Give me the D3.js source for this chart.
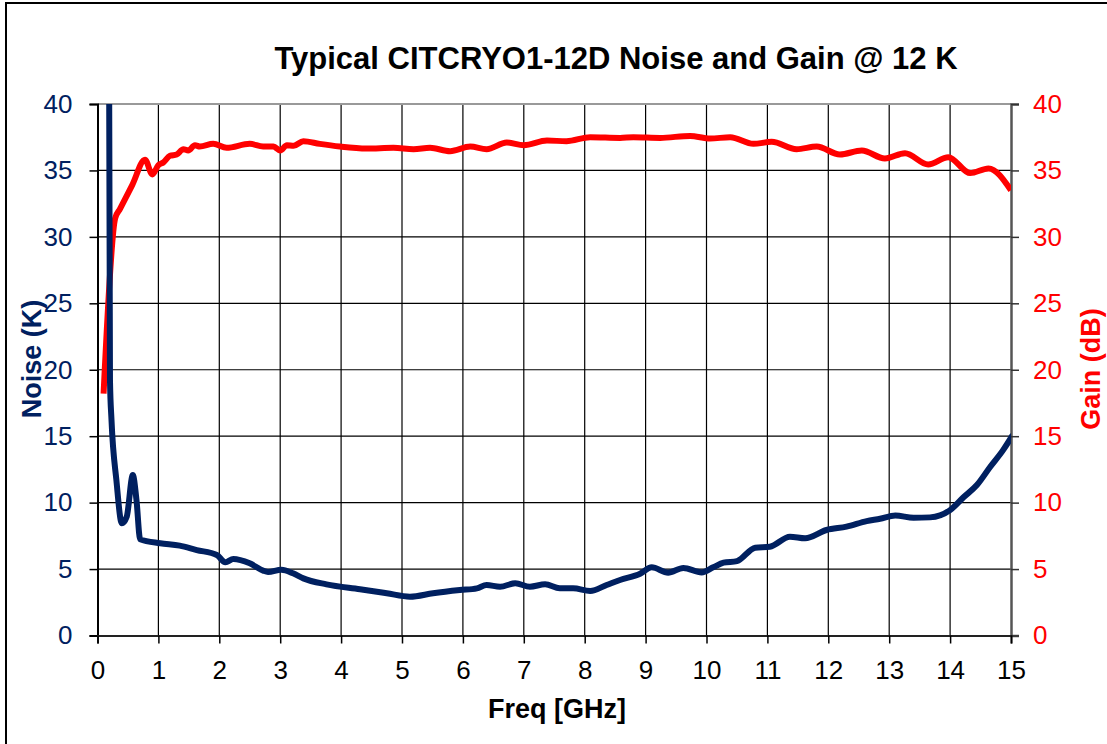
<!DOCTYPE html>
<html>
<head>
<meta charset="utf-8">
<script src="https://cdn.jsdelivr.net/npm/d3@7"></script>
<style>
	body { margin: 0; background: #fff; }
	text { font-family: Arial, "Liberation Sans", sans-serif; }
</style>
</head>
<body>
<div id="chart"></div>
<script>
// frequency (GHz) / noise (K)
var noiseFreq = [0.18, 0.205, 0.23, 0.31, 0.40, 0.48, 0.58, 0.64, 0.70, 1.03, 1.35, 1.63, 1.96, 2.10, 2.23, 2.50, 2.72, 2.80, 3.02, 3.21, 3.38, 3.76, 4.31, 4.75, 5.13, 5.51, 5.95, 6.23, 6.39, 6.61, 6.86, 7.10, 7.35, 7.59, 7.81, 8.09, 8.36, 8.58, 8.91, 9.10, 9.37, 9.62, 9.92, 10.11, 10.28, 10.50, 10.80, 11.04, 11.37, 11.62, 11.97, 12.30, 12.63, 12.85, 13.10, 13.40, 13.67, 14.00, 14.22, 14.44, 14.66, 14.87, 15.03]
var noiseK = [60, 19.2, 16.2, 11.7, 8.44, 8.94, 12.07, 10.2, 7.24, 6.94, 6.76, 6.43, 6.06, 5.51, 5.76, 5.43, 4.88, 4.78, 4.95, 4.68, 4.30, 3.85, 3.48, 3.18, 2.92, 3.18, 3.42, 3.55, 3.80, 3.67, 3.93, 3.67, 3.85, 3.55, 3.55, 3.35, 3.80, 4.18, 4.65, 5.13, 4.73, 5.08, 4.75, 5.13, 5.48, 5.60, 6.61, 6.68, 7.43, 7.31, 7.94, 8.19, 8.61, 8.79, 9.04, 8.86, 8.89, 9.44, 10.40, 11.32, 12.70, 13.95, 15.1]

// frequency (GHz) / gain (dB)
var gainFreq = [0.1, 0.29, 0.37, 0.57, 0.78, 0.90, 1.0, 1.08, 1.19, 1.30, 1.41, 1.49, 1.60, 1.68, 1.90, 2.12, 2.50, 2.72, 2.89, 3.0, 3.11, 3.22, 3.38, 3.65, 3.98, 4.42, 4.86, 5.19, 5.46, 5.79, 6.12, 6.39, 6.72, 7.0, 7.38, 7.70, 8.09, 8.58, 8.80, 9.24, 9.73, 10.06, 10.39, 10.77, 11.07, 11.48, 11.81, 12.19, 12.55, 12.93, 13.26, 13.64, 13.97, 14.33, 14.63, 15.0]
var gainDb = [18.2, 31.4, 32.1, 33.9, 35.8, 34.7, 35.4, 35.6, 36.1, 36.2, 36.6, 36.5, 36.9, 36.8, 37.0, 36.7, 37.0, 36.8, 36.8, 36.5, 36.9, 36.85, 37.2, 37.0, 36.8, 36.65, 36.7, 36.6, 36.7, 36.45, 36.8, 36.6, 37.1, 36.9, 37.25, 37.2, 37.5, 37.45, 37.5, 37.45, 37.6, 37.4, 37.5, 37.0, 37.15, 36.6, 36.8, 36.2, 36.5, 35.9, 36.3, 35.45, 36.0, 34.8, 35.15, 33.5]

var xTicks = [0, 1, 2, 3, 4, 5, 6, 7, 8, 9, 10, 11, 12, 13, 14, 15]
var yTicks = [0, 5, 10, 15, 20, 25, 30, 35, 40]

var title = "Typical CITCRYO1-12D Noise and Gain @ 12 K"

var width = 1107,
	height = 744

var plotLeft = 97.5,
	plotRight = 1011,
	plotTop = 104,
	plotBottom = 635.5

var navy = "#002060",
	red = "#ff0000"

var svg = d3.select("#chart")
	.append("svg")
	.attr("width", width)
	.attr("height", height)

// outer frame, runs off the right and bottom edges
svg.append("rect")
	.attr("x", 6)
	.attr("y", 3)
	.attr("width", 1200)
	.attr("height", 800)
	.attr("fill", "none")
	.attr("stroke", "#000")
	.attr("stroke-width", 2)

var x = d3.scaleLinear().domain([0, 15]).range([plotLeft, plotRight])
var yNoise = d3.scaleLinear().domain([0, 40]).range([plotBottom, plotTop])
var yGain = d3.scaleLinear().domain([0, 40]).range([plotBottom, plotTop])

svg.append("defs").append("clipPath")
	.attr("id", "plot-clip")
	.append("rect")
	.attr("x", plotLeft)
	.attr("y", plotTop)
	.attr("width", plotRight - plotLeft)
	.attr("height", plotBottom - plotTop)

// grid
svg.append("g")
	.selectAll("line")
	.data(xTicks.slice(1, -1))
	.enter().append("line")
	.attr("x1", function(d) { return x(d) })
	.attr("x2", function(d) { return x(d) })
	.attr("y1", plotTop)
	.attr("y2", plotBottom)
	.attr("stroke", "#000")
	.attr("stroke-width", 1.2)

svg.append("g")
	.selectAll("line")
	.data(yTicks.slice(1, -1))
	.enter().append("line")
	.attr("x1", plotLeft)
	.attr("x2", plotRight)
	.attr("y1", function(d) { return yNoise(d) })
	.attr("y2", function(d) { return yNoise(d) })
	.attr("stroke", "#000")
	.attr("stroke-width", 1.2)

// top edge of plot area is grey
svg.append("line")
	.attr("x1", plotLeft).attr("x2", plotRight)
	.attr("y1", plotTop).attr("y2", plotTop)
	.attr("stroke", "#999")
	.attr("stroke-width", 2)

// axes
var axisLeft = d3.axisLeft(yNoise).tickValues(yTicks).tickSize(8).tickPadding(17)
var axisRight = d3.axisRight(yGain).tickValues(yTicks).tickSize(8).tickPadding(14)
var axisBottom = d3.axisBottom(x).tickValues(xTicks).tickSize(8).tickPadding(17)

var gLeft = svg.append("g")
	.attr("transform", "translate(" + plotLeft + ",0)")
	.call(axisLeft)
gLeft.select(".domain").attr("stroke", "#000").attr("stroke-width", 2)
gLeft.selectAll(".tick line").attr("stroke", "#000").attr("stroke-width", 1.5)
gLeft.selectAll(".tick text")
	.attr("fill", navy)
	.style("font-size", "26px")
	.style("font-family", "Arial, 'Liberation Sans', sans-serif")

var gRight = svg.append("g")
	.attr("transform", "translate(" + plotRight + ",0)")
	.call(axisRight)
gRight.select(".domain").attr("stroke", "#555").attr("stroke-width", 2.5)
gRight.selectAll(".tick line").attr("stroke", "#333").attr("stroke-width", 1.5)
gRight.selectAll(".tick text")
	.attr("fill", red)
	.style("font-size", "26px")
	.style("font-family", "Arial, 'Liberation Sans', sans-serif")

var gBottom = svg.append("g")
	.attr("transform", "translate(0," + plotBottom + ")")
	.call(axisBottom)
gBottom.select(".domain").attr("stroke", "#222").attr("stroke-width", 2)
gBottom.selectAll(".tick line").attr("stroke", "#000").attr("stroke-width", 1.5)
gBottom.selectAll(".tick text")
	.attr("fill", "#000")
	.style("font-size", "26px")
	.style("font-family", "Arial, 'Liberation Sans', sans-serif")

// lines
var noiseLine = d3.line()
	.x(function(d, i) { return x(noiseFreq[i]) })
	.y(function(d) { return yNoise(d) })
	.curve(d3.curveMonotoneX)

var gainLine = d3.line()
	.x(function(d, i) { return x(gainFreq[i]) })
	.y(function(d) { return yGain(d) })
	.curve(d3.curveMonotoneX)

var plot = svg.append("g").attr("clip-path", "url(#plot-clip)")

plot.append("path")
	.datum(gainDb)
	.attr("d", gainLine)
	.attr("fill", "none")
	.attr("stroke", red)
	.attr("stroke-width", 6)
	.attr("stroke-linejoin", "round")

plot.append("path")
	.datum(noiseK)
	.attr("d", noiseLine)
	.attr("fill", "none")
	.attr("stroke", navy)
	.attr("stroke-width", 6)
	.attr("stroke-linejoin", "round")

// titles
svg.append("text")
	.attr("x", 616)
	.attr("y", 69)
	.attr("text-anchor", "middle")
	.style("font-size", "31px")
	.style("font-weight", "bold")
	.attr("fill", "#000")
	.text(title)

svg.append("text")
	.attr("x", 557)
	.attr("y", 718)
	.attr("text-anchor", "middle")
	.style("font-size", "27px")
	.style("font-weight", "bold")
	.attr("fill", "#000")
	.text("Freq [GHz]")

svg.append("text")
	.attr("transform", "translate(41,359) rotate(-90)")
	.attr("text-anchor", "middle")
	.style("font-size", "27px")
	.style("font-weight", "bold")
	.attr("fill", navy)
	.text("Noise (K)")

svg.append("text")
	.attr("transform", "translate(1100,369) rotate(-90)")
	.attr("text-anchor", "middle")
	.style("font-size", "27px")
	.style("font-weight", "bold")
	.attr("fill", red)
	.text("Gain (dB)")
</script>
</body>
</html>
